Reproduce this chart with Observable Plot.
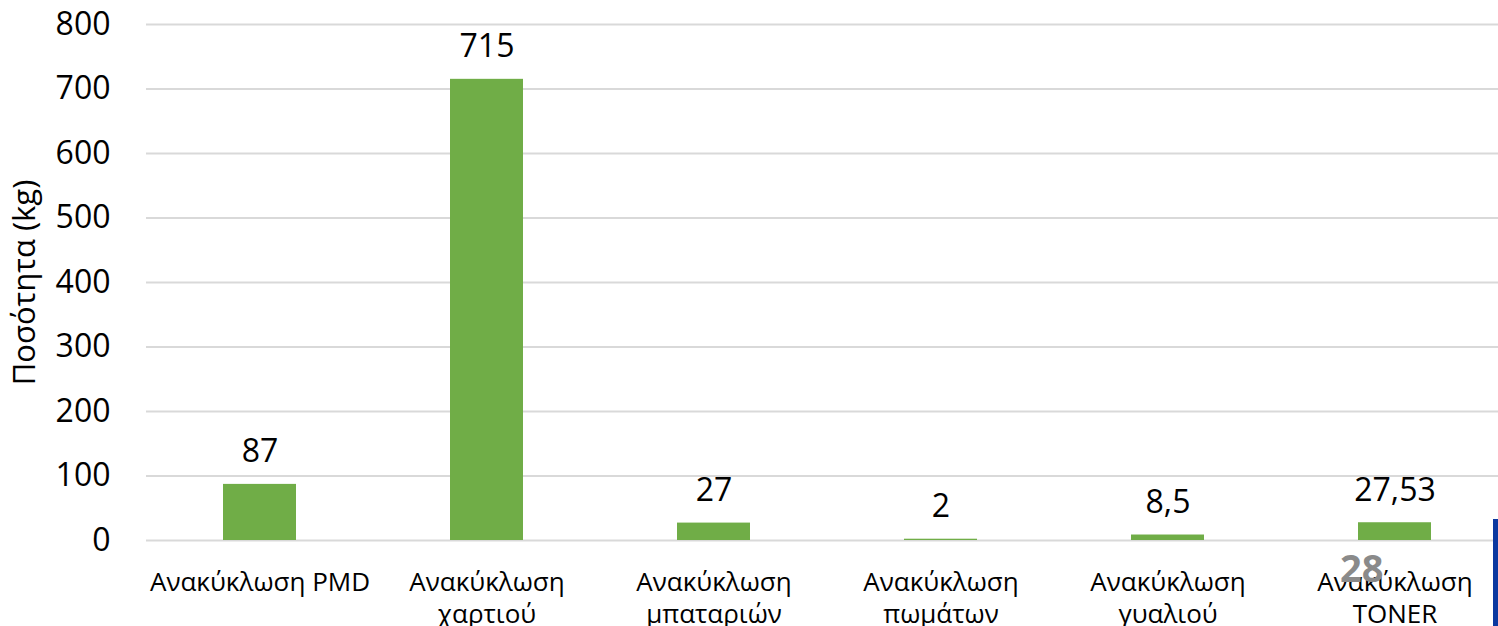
<!DOCTYPE html>
<html>
<head>
<meta charset="utf-8">
<script src="https://cdn.jsdelivr.net/npm/d3@7"></script>
<script src="https://cdn.jsdelivr.net/npm/@observablehq/plot@0.6"></script>
<style>
  html, body { margin: 0; padding: 0; background: #fff; overflow: hidden; }
  #wrap { position: relative; width: 1498px; height: 626px; }
  #pagenum { position: absolute; left: 1340px; top: 548px; font: bold 38px "Open Sans", sans-serif; color: #8a8a8a; line-height: 1; }
  #edge { position: absolute; left: 1493px; top: 519px; width: 5px; height: 107px; background: #0b38a0; }
</style>
</head>
<body>
<div id="wrap"></div>
<script>
const categories = ["Ανακύκλωση PMD", "Ανακύκλωση\nχαρτιού", "Ανακύκλωση\nμπαταριών", "Ανακύκλωση\nπωμάτων", "Ανακύκλωση\nγυαλιού", "Ανακύκλωση\nTONER"];
const values = [87, 715, 27, 2, 8.5, 27.53];
const valueLabels = ["87", "715", "27", "2", "8,5", "27,53"];
const yTicks = [0, 100, 200, 300, 400, 500, 600, 700, 800];
const yTitle = "Ποσότητα (kg)";
const pageNumber = "28";

const data = categories.map((c, i) => ({cat: c, value: values[i], label: valueLabels[i]}));

const chart = Plot.plot({
  width: 1498,
  height: 626,
  marginLeft: 146,
  marginRight: 0,
  marginTop: 24,
  marginBottom: 86,
  style: {fontFamily: "'Open Sans', sans-serif", color: "#000", background: "#fff", overflow: "visible"},
  x: {domain: categories, range: [146, 1508], paddingInner: 0.68, paddingOuter: 0.34},
  y: {domain: [0, 800]},
  marks: [
    Plot.gridY(yTicks, {stroke: "#d9d9d9", strokeWidth: 2, strokeOpacity: 1}),
    Plot.barY(data, {x: "cat", y: "value", fill: "#70AD47"}),
    Plot.text(data, {x: "cat", y: "value", text: "label", dy: -22, lineAnchor: "bottom", fontSize: 32, fill: "#000"}),
    Plot.axisY(yTicks, {tickSize: 0, tickPadding: 36, fontSize: 32, label: null}),
    Plot.axisY(yTicks, {tickSize: 0, text: null, fontSize: 31, label: yTitle, labelAnchor: "center", labelOffset: 134, labelArrow: "none", fill: "#000"}),
    Plot.axisX({tickSize: 0, tickPadding: 27, fontSize: 26, label: null, lineHeight: 1.25, fill: "#000"})
  ]
});
document.getElementById("wrap").appendChild(chart);

const pn = document.createElement("div");
pn.id = "pagenum";
pn.textContent = pageNumber;
document.getElementById("wrap").appendChild(pn);
const edge = document.createElement("div");
edge.id = "edge";
document.getElementById("wrap").appendChild(edge);
</script>
</body>
</html>
